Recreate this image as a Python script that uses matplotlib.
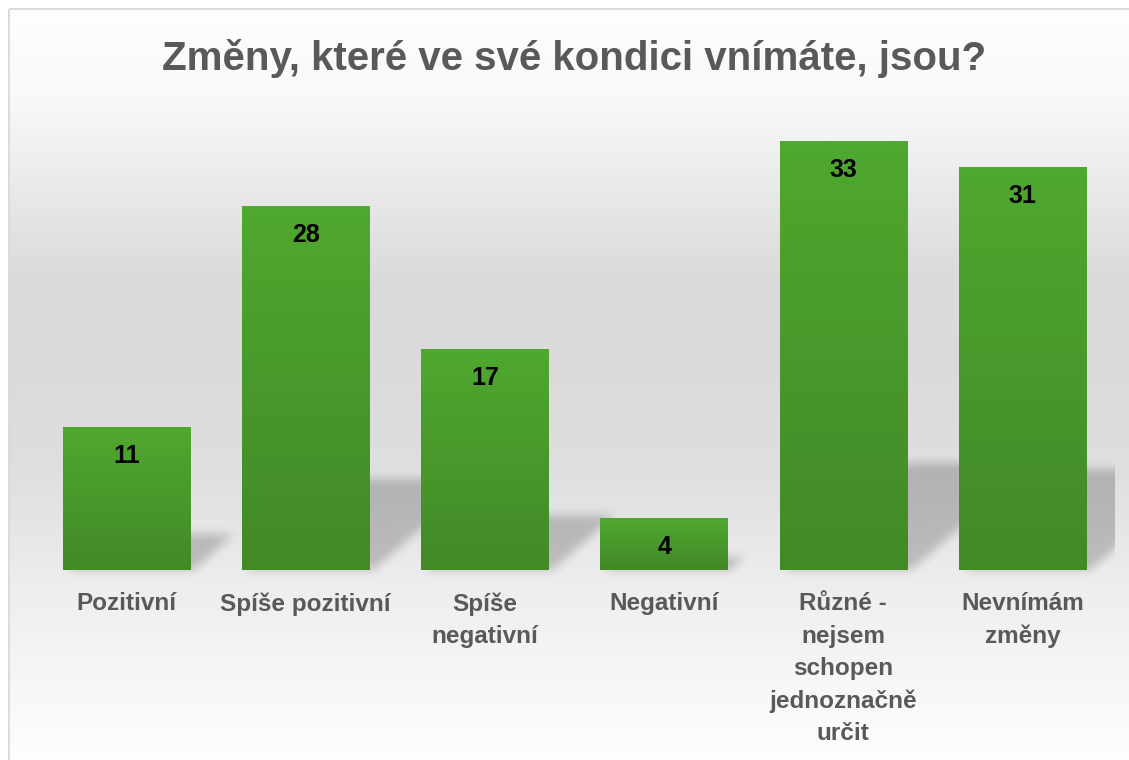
import numpy as np
import matplotlib
matplotlib.use("Agg")
import matplotlib.pyplot as plt
from matplotlib.path import Path

plt.rcParams["font.family"] = ["Liberation Sans", "DejaVu Sans"]

# ---------------- data ----------------
title = "Změny, které ve své kondici vnímáte, jsou?"
categories = [
    "Pozitivní",
    "Spíše pozitivní",
    "Spíše\nnegativní",
    "Negativní",
    "Různé -\nnejsem\nschopen\njednoznačně\nurčit",
    "Nevnímám\nzměny",
]
values = [11, 28, 17, 4, 33, 31]

# ---------------- figure ----------------
W, H, DPI = 1129, 760, 100
fig = plt.figure(figsize=(W / DPI, H / DPI), dpi=DPI)
fig.patch.set_facecolor("white")

# background (pixel coordinates, y downwards)
bg = fig.add_axes([0, 0, 1, 1], zorder=0)
bg.set_xlim(0, W)
bg.set_ylim(H, 0)
bg.axis("off")

yy = np.linspace(0, 1, 400)
stops_y = [0.0, 0.12, 0.36, 0.46, 0.62, 0.78, 1.0]
stops_v = [0.995, 0.975, 0.855, 0.855, 0.875, 0.935, 0.995]
grey = np.interp(yy, stops_y, stops_v)
grad = np.repeat(np.stack([grey, grey, grey], axis=-1)[:, None, :], 2, axis=1)
bg.imshow(grad, extent=[9, W, H, 9], aspect="auto", interpolation="bilinear", zorder=0)
bg.plot([8.5, 8.5], [H, 8.5], color="#d9d9d9", lw=1.3, zorder=1, solid_capstyle="butt")
bg.plot([8.5, W], [8.5, 8.5], color="#d9d9d9", lw=1.3, zorder=1, solid_capstyle="butt")
bg.set_xlim(0, W)
bg.set_ylim(H, 0)

# main axes
left_px, right_px, base_px, top_px = 37, 1112, 570, 115
ax = fig.add_axes([left_px / W, (H - base_px) / H, (right_px - left_px) / W,
                   (base_px - top_px) / H], zorder=2)
ax.patch.set_alpha(0)
n = len(values)
x = np.arange(n)
bw = 0.71
ax.set_xlim(-0.5, n - 0.5)
ax.set_ylim(0, 35)
for s in ax.spines.values():
    s.set_visible(False)
ax.set_yticks([])

# ---------------- shadows (computed from bars through transData) ----------------
fig.canvas.draw()
gx, gy = np.meshgrid(np.arange(W) + 0.5, np.arange(H) + 0.5)
pts = np.column_stack([gx.ravel(), (H - gy).ravel()])  # display coords
mask = np.zeros(W * H)
for xi, v in zip(x, values):
    (x0, y0), (x1, y1) = ax.transData.transform([(xi - bw / 2, 0), (xi + bw / 2, v)])
    hpx = y1 - y0
    dx, dy = 0.30 * hpx, 0.25 * hpx
    poly = [(x0 + 4, y0), (x1 + 4, y0), (x1 + dx, y0 + dy), (x0 + dx, y0 + dy)]
    mask = np.maximum(mask, Path(poly).contains_points(pts).astype(float))
mask = mask.reshape(H, W)


def box_blur(a, r):
    k = 2 * r + 1
    for axis in (0, 1):
        pad = [(0, 0), (0, 0)]
        pad[axis] = (r, r)
        p = np.pad(a, pad, mode="edge")
        c = np.cumsum(p, axis=axis)
        z = np.zeros_like(np.take(c, [0], axis=axis))
        c = np.concatenate([z, c], axis=axis)
        a = (np.take(c, np.arange(k, c.shape[axis]), axis=axis)
             - np.take(c, np.arange(0, c.shape[axis] - k), axis=axis)) / k
    return a


for _ in range(3):
    mask = box_blur(mask, 4)
mask[:, int(right_px + 3):] = 0
shadow = np.zeros((H, W, 4))
shadow[..., 3] = mask * 0.2
bg.imshow(shadow, extent=[0, W, H, 0], aspect="auto", interpolation="nearest", zorder=0.5)
bg.set_xlim(0, W)
bg.set_ylim(H, 0)

# ---------------- bars with vertical gradient ----------------
top_c = np.array([0x4F, 0xA8, 0x2F]) / 255
bot_c = np.array([0x42, 0x89, 0x28]) / 255
t = np.linspace(0, 1, 100)[:, None]
gcol = (top_c[None, :] * (1 - t) + bot_c[None, :] * t)[:, None, :].repeat(2, axis=1)
bars = ax.bar(x, values, width=bw, color="#48982c", linewidth=0, zorder=2)
for b, v in zip(bars, values):
    im = ax.imshow(gcol, extent=[b.get_x(), b.get_x() + b.get_width(), 0, v],
                   aspect="auto", origin="upper", interpolation="bilinear", zorder=3)
    im.set_clip_path(b)
ax.set_xlim(-0.5, n - 0.5)
ax.set_ylim(0, 35)

for xi, v in zip(x, values):
    ax.annotate(str(v), (xi, v), xytext=(0, -29), textcoords="offset pixels",
                ha="center", va="center", fontsize=18, fontweight="bold",
                color="black", zorder=5)

ax.set_xticks(x)
ax.set_xticklabels(categories, fontsize=17.5, fontweight="bold", color="#595959",
                   linespacing=1.52)
ax.tick_params(axis="x", length=0, pad=16)

fig.text(574 / W, 1 - 70 / H, title, ha="center", va="baseline", fontsize=29,
         fontweight="bold", color="#595959")

fig.savefig("out.png", dpi=DPI, facecolor="white")
